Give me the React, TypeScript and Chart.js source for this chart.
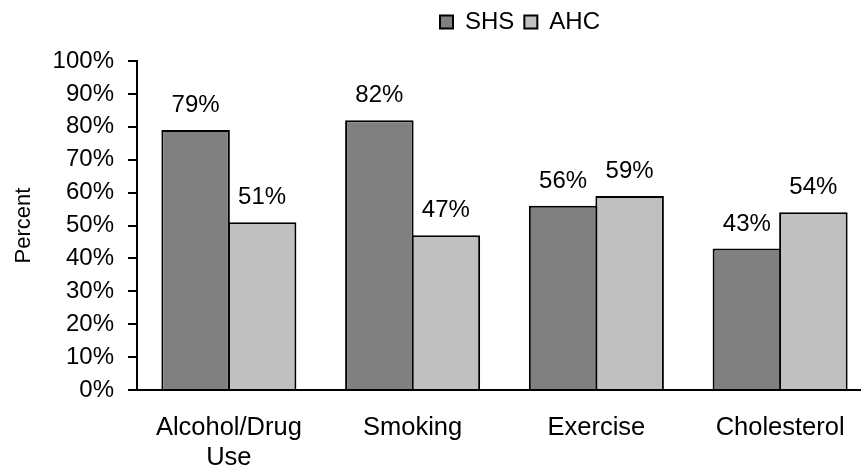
import React, { useEffect, useRef } from "react";
import { Chart, registerables } from "chart.js";

Chart.register(...registerables);

const categories: (string | string[])[] = [["Alcohol/Drug", "Use"], "Smoking", "Exercise", "Cholesterol"];
const seriesNames = ["SHS", "AHC"];
const shsValues = [79, 82, 56, 43];
const ahcValues = [51, 47, 59, 54];
const yTicks = [0, 10, 20, 30, 40, 50, 60, 70, 80, 90, 100];

const FONT = "'Liberation Sans', Arial, sans-serif";
const CANVAS_W = 900;
const CANVAS_H = 474;

const valueLabels = {
  id: "valueLabels",
  afterDatasetsDraw(chart: any) {
    const ctx = chart.ctx;
    ctx.save();
    ctx.font = `24px ${FONT}`;
    ctx.fillStyle = "#000";
    ctx.textAlign = "center";
    ctx.textBaseline = "alphabetic";
    chart.data.datasets.forEach((ds: any, i: number) => {
      const meta = chart.getDatasetMeta(i);
      meta.data.forEach((el: any, j: number) => {
        ctx.fillText(`${ds.data[j]}%`, el.x, el.y - 18);
      });
    });
    ctx.restore();
  },
};

const legendTweak = {
  id: "legendTweak",
  beforeLayout(chart: any) {
    const lg = chart.legend;
    if (lg && !lg.__patched) {
      const orig = lg.fit.bind(lg);
      lg.fit = () => {
        orig();
        lg.height = 61;
      };
      lg.__patched = true;
    }
  },
  afterLayout(chart: any) {
    const lg = chart.legend;
    if (!lg) return;
    const shift = 520 - (lg.left + lg.right) / 2;
    lg.left += shift;
    lg.right += shift;
  },
};

export default function App() {
  const ref = useRef<HTMLCanvasElement | null>(null);

  useEffect(() => {
    if (!ref.current) return;
    const chart = new Chart(ref.current, {
      type: "bar",
      data: {
        labels: categories,
        datasets: [
          {
            label: seriesNames[0],
            data: shsValues,
            backgroundColor: "#808080",
            borderColor: "#000",
            borderWidth: 2,
          },
          {
            label: seriesNames[1],
            data: ahcValues,
            backgroundColor: "#C0C0C0",
            borderColor: "#000",
            borderWidth: 2,
          },
        ],
      },
      options: {
        responsive: false,
        animation: false,
        devicePixelRatio: 1,
        layout: { padding: { left: 0, right: 28, top: 0, bottom: 0 } },
        datasets: {
          bar: { categoryPercentage: 0.724, barPercentage: 1.03 },
        },
        plugins: {
          legend: {
            display: true,
            position: "top",
            labels: {
              boxWidth: 13,
              boxHeight: 13,
              padding: 10,
              color: "#000",
              font: { family: FONT, size: 24 },
            },
          },
          tooltip: { enabled: false },
        },
        scales: {
          x: {
            z: 1,
            grid: { display: false, drawTicks: false },
            border: { display: true, color: "#000", width: 2 },
            ticks: {
              color: "#000",
              padding: 23,
              font: { family: FONT, size: 25.5, lineHeight: 1.18 },
              maxRotation: 0,
              autoSkip: false,
            },
            afterFit: (s: any) => {
              s.height = CANVAS_H - 390;
            },
          },
          y: {
            min: 0,
            max: 100,
            afterBuildTicks: (s: any) => {
              s.ticks = yTicks.map((v) => ({ value: v }));
            },
            grid: {
              display: true,
              drawOnChartArea: false,
              drawTicks: true,
              tickLength: 9,
              color: "#000",
              lineWidth: 2,
            },
            border: { display: true, color: "#000", width: 2 },
            ticks: {
              color: "#000",
              padding: 14,
              font: { family: FONT, size: 24 },
              callback: (v: any) => `${v}%`,
            },
            title: {
              display: true,
              text: "Percent",
              color: "#000",
              font: { family: FONT, size: 22 },
              padding: { top: 11, bottom: 0 },
            },
            afterFit: (s: any) => {
              s.width = 137;
            },
          },
        },
      },
      plugins: [valueLabels, legendTweak],
    });
    return () => chart.destroy();
  }, []);

  return (
    <div
      style={{
        position: "absolute",
        left: 0,
        top: 0,
        width: 861,
        height: 474,
        overflow: "hidden",
        background: "#fff",
      }}
    >
      <canvas ref={ref} width={CANVAS_W} height={CANVAS_H} style={{ width: CANVAS_W, height: CANVAS_H, display: "block" }} />
    </div>
  );
}
